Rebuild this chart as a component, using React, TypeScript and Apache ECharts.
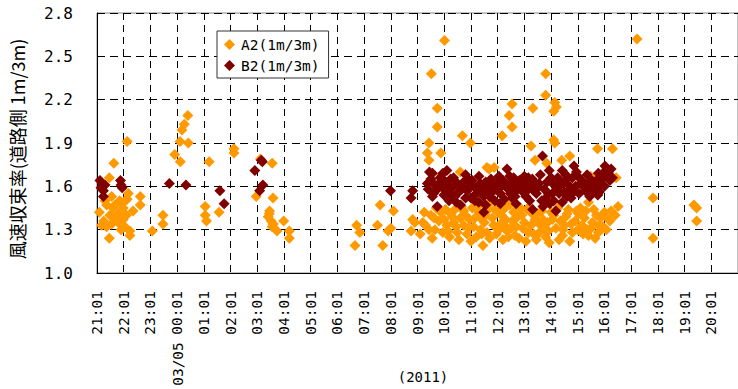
import React, { useEffect, useRef } from "react";
import * as echarts from "echarts";

// x = hours elapsed since 21:01 (03/04), y = wind-speed convergence ratio
const hourLabels = [
  "21:01", "22:01", "23:01", "00:01", "01:01", "02:01", "03:01", "04:01",
  "05:01", "06:01", "07:01", "08:01", "09:01", "10:01", "11:01", "12:01",
  "13:01", "14:01", "15:01", "16:01", "17:01", "18:01", "19:01", "20:01",
];
const yTicks = [1.0, 1.3, 1.6, 1.9, 2.2, 2.5, 2.8];

const a2Points: [number, number][] = [
  [0.09, 1.42], [0.17, 1.33], [0.25, 1.36], [0.3, 1.5], [0.36, 1.32], [0.36, 1.47],
  [0.46, 1.66], [0.46, 1.24], [0.48, 1.4], [0.55, 1.53], [0.55, 1.34], [0.6, 1.45],
  [0.63, 1.76], [0.67, 1.47], [0.7, 1.38], [0.79, 1.41], [0.79, 1.35], [0.85, 1.5],
  [0.9, 1.3], [0.92, 1.48], [0.98, 1.45], [0.98, 1.37], [1.04, 1.32], [1.05, 1.5],
  [1.1, 1.4], [1.13, 1.91], [1.13, 1.51], [1.17, 1.55], [1.23, 1.29], [1.23, 1.26],
  [1.35, 1.43], [1.62, 1.53], [1.62, 1.47], [2.07, 1.29], [2.47, 1.4], [2.47, 1.34],
  [2.91, 1.82], [3.11, 1.91], [3.12, 1.77], [3.18, 1.99], [3.27, 2.03], [3.4, 2.09],
  [3.42, 1.9], [4.05, 1.46], [4.05, 1.4], [4.1, 1.36], [4.2, 1.77], [4.57, 1.42],
  [5.13, 1.86], [5.13, 1.83], [5.96, 1.53], [6.12, 1.79], [6.56, 1.76], [6.59, 1.52],
  [6.46, 1.43], [6.41, 1.39], [6.45, 1.41], [6.52, 1.36], [6.56, 1.32], [6.6, 1.34],
  [6.74, 1.29], [6.99, 1.36], [7.2, 1.29], [7.2, 1.24], [9.66, 1.19], [9.72, 1.33],
  [9.84, 1.28], [10.5, 1.33], [10.6, 1.47], [10.7, 1.19], [10.9, 1.29], [11.0, 1.31],
  [11.1, 1.43], [11.76, 1.29], [11.82, 1.37], [11.9, 1.35], [12.1, 1.27], [12.2, 1.35],
  [12.25, 1.42], [12.3, 1.33], [12.37, 1.83], [12.43, 1.9], [12.43, 1.78], [12.43, 1.3],
  [12.5, 1.4], [12.52, 2.38], [12.55, 1.24], [12.62, 1.38], [12.65, 1.3], [12.7, 1.45],
  [12.74, 2.14], [12.74, 2.01], [12.8, 1.36], [12.87, 1.83], [12.87, 1.42], [12.9, 1.68],
  [12.95, 1.28], [13.0, 1.37], [13.01, 2.61], [13.05, 1.44], [13.1, 1.33], [13.1, 1.55],
  [13.15, 1.29], [13.2, 1.25], [13.24, 1.41], [13.3, 1.39], [13.35, 1.35], [13.4, 1.44],
  [13.45, 1.32], [13.49, 1.28], [13.55, 1.23], [13.6, 1.7], [13.6, 1.38], [13.65, 1.46],
  [13.68, 1.95], [13.73, 1.43], [13.73, 1.33], [13.8, 1.4], [13.85, 1.27], [13.9, 1.31],
  [13.95, 1.37], [13.98, 1.9], [14.0, 1.22], [14.05, 1.45], [14.1, 1.32], [14.15, 1.38],
  [14.2, 1.25], [14.25, 1.46], [14.3, 1.42], [14.36, 1.38], [14.36, 1.3], [14.4, 1.27],
  [14.45, 1.19], [14.5, 1.35], [14.55, 1.4], [14.6, 1.28], [14.6, 1.73], [14.65, 1.44],
  [14.68, 1.72], [14.7, 1.24], [14.73, 1.49], [14.8, 1.38], [14.85, 1.33], [14.87, 1.73],
  [14.9, 1.44], [14.95, 1.27], [15.0, 1.42], [15.05, 1.3], [15.1, 1.34], [15.15, 1.4],
  [15.17, 1.95], [15.2, 1.23], [15.22, 1.44], [15.25, 1.33], [15.3, 1.37], [15.35, 1.29],
  [15.4, 1.25], [15.43, 2.09], [15.45, 1.47], [15.5, 1.31], [15.54, 2.17], [15.54, 2.01],
  [15.55, 1.36], [15.6, 1.42], [15.65, 1.26], [15.7, 1.32], [15.75, 1.39], [15.8, 1.24],
  [15.85, 1.45], [15.9, 1.4], [15.94, 1.31], [16.0, 1.35], [16.06, 1.22], [16.1, 1.44],
  [16.15, 1.28], [16.2, 1.46], [16.25, 1.88], [16.25, 1.33], [16.3, 1.41], [16.32, 2.14],
  [16.35, 1.27], [16.4, 1.78], [16.4, 1.37], [16.45, 1.23], [16.5, 1.41], [16.56, 1.28],
  [16.56, 1.34], [16.65, 1.43], [16.7, 1.37], [16.75, 1.31], [16.8, 2.38], [16.8, 2.23],
  [16.8, 1.25], [16.84, 1.76], [16.87, 1.35], [16.9, 1.29], [16.93, 1.21], [17.0, 1.42],
  [17.05, 1.37], [17.1, 2.12], [17.1, 1.92], [17.1, 1.4], [17.14, 2.18], [17.14, 1.9],
  [17.18, 1.31], [17.2, 2.15], [17.25, 1.45], [17.3, 1.23], [17.35, 1.36], [17.4, 1.78],
  [17.43, 1.26], [17.45, 1.3], [17.5, 1.33], [17.55, 1.39], [17.6, 1.41], [17.65, 1.44],
  [17.7, 1.81], [17.7, 1.22], [17.75, 1.34], [17.8, 1.28], [17.9, 1.36], [17.95, 1.43],
  [18.0, 1.3], [18.03, 1.41], [18.1, 1.45], [18.16, 1.33], [18.2, 1.27], [18.25, 1.38],
  [18.3, 1.43], [18.35, 1.3], [18.4, 1.58], [18.4, 1.49], [18.4, 1.26], [18.48, 1.67],
  [18.5, 1.31], [18.55, 1.35], [18.6, 1.44], [18.65, 1.24], [18.7, 1.4], [18.74, 1.86],
  [18.77, 1.28], [18.8, 1.33], [18.85, 1.38], [18.95, 1.32], [19.0, 1.42], [19.07, 1.3],
  [19.1, 1.38], [19.2, 1.36], [19.25, 1.43], [19.3, 1.86], [19.4, 1.4], [19.44, 1.66],
  [19.51, 1.46], [20.22, 2.62], [20.82, 1.52], [20.82, 1.24], [22.35, 1.47], [22.45, 1.45],
  [22.45, 1.36],
];

const b2Points: [number, number][] = [
  [0.11, 1.64], [0.15, 1.59], [0.2, 1.62], [0.24, 1.57], [0.24, 1.53], [0.3, 1.61],
  [0.88, 1.64], [0.9, 1.61], [0.94, 1.59], [2.71, 1.62], [3.33, 1.61], [4.6, 1.57],
  [4.76, 1.48], [5.91, 1.71], [6.15, 1.78], [6.19, 1.77], [6.21, 1.61], [6.09, 1.57],
  [10.99, 1.57], [11.76, 1.52], [11.82, 1.57], [12.37, 1.62], [12.4, 1.58], [12.45, 1.7],
  [12.5, 1.65], [12.56, 1.69], [12.56, 1.53], [12.6, 1.55], [12.65, 1.61], [12.74, 1.58],
  [12.74, 1.46], [12.8, 1.62], [12.85, 1.66], [12.9, 1.6], [12.95, 1.69], [12.99, 1.54],
  [13.0, 1.64], [13.05, 1.57], [13.1, 1.71], [13.15, 1.6], [13.18, 1.5], [13.2, 1.55],
  [13.24, 1.65], [13.3, 1.59], [13.35, 1.66], [13.4, 1.53], [13.45, 1.49], [13.5, 1.62],
  [13.55, 1.56], [13.61, 1.47], [13.65, 1.58], [13.73, 1.63], [13.8, 1.52], [13.8, 1.68],
  [13.86, 1.57], [13.9, 1.65], [13.95, 1.6], [14.0, 1.52], [14.05, 1.64], [14.1, 1.6],
  [14.15, 1.5], [14.2, 1.55], [14.25, 1.58], [14.29, 1.49], [14.3, 1.67], [14.35, 1.62],
  [14.4, 1.57], [14.48, 1.53], [14.48, 1.42], [14.55, 1.63], [14.55, 1.47], [14.6, 1.6],
  [14.65, 1.56], [14.7, 1.53], [14.75, 1.65], [14.8, 1.61], [14.85, 1.57], [14.9, 1.5],
  [14.95, 1.62], [15.0, 1.59], [15.05, 1.67], [15.1, 1.55], [15.1, 1.48], [15.15, 1.6],
  [15.2, 1.64], [15.25, 1.51], [15.3, 1.6], [15.35, 1.72], [15.4, 1.58], [15.45, 1.67],
  [15.47, 1.55], [15.5, 1.63], [15.55, 1.52], [15.57, 1.6], [15.6, 1.66], [15.65, 1.53],
  [15.69, 1.48], [15.7, 1.57], [15.75, 1.61], [15.81, 1.64], [15.9, 1.6], [15.95, 1.56],
  [16.0, 1.67], [16.05, 1.63], [16.06, 1.53], [16.1, 1.57], [16.15, 1.66], [16.2, 1.5],
  [16.25, 1.6], [16.3, 1.65], [16.31, 1.44], [16.35, 1.57], [16.4, 1.62], [16.45, 1.55],
  [16.5, 1.59], [16.55, 1.62], [16.6, 1.68], [16.65, 1.5], [16.68, 1.81], [16.7, 1.46],
  [16.75, 1.58], [16.8, 1.52], [16.85, 1.63], [16.9, 1.55], [16.93, 1.71], [16.95, 1.48],
  [17.0, 1.66], [17.05, 1.55], [17.06, 1.62], [17.1, 1.5], [17.18, 1.43], [17.2, 1.58],
  [17.25, 1.66], [17.3, 1.55], [17.3, 1.6], [17.35, 1.63], [17.42, 1.71], [17.42, 1.49],
  [17.45, 1.62], [17.5, 1.56], [17.55, 1.68], [17.6, 1.65], [17.6, 1.53], [17.65, 1.57],
  [17.7, 1.6], [17.75, 1.52], [17.8, 1.66], [17.85, 1.56], [17.86, 1.74], [17.92, 1.6],
  [17.95, 1.7], [18.0, 1.67], [18.05, 1.55], [18.1, 1.62], [18.16, 1.64], [18.2, 1.6],
  [18.28, 1.57], [18.3, 1.6], [18.35, 1.68], [18.4, 1.62], [18.45, 1.53], [18.5, 1.57],
  [18.53, 1.64], [18.6, 1.58], [18.65, 1.6], [18.7, 1.64], [18.75, 1.54], [18.77, 1.69],
  [18.81, 1.56], [18.83, 1.6], [18.88, 1.62], [18.9, 1.65], [18.94, 1.69], [19.0, 1.6],
  [19.02, 1.74], [19.1, 1.68], [19.15, 1.7], [19.2, 1.64], [19.25, 1.72], [19.3, 1.66],
];

const MONO = "'DejaVu Sans Mono', monospace";

export default function App() {
  const ref = useRef<HTMLDivElement>(null);
  useEffect(() => {
    if (!ref.current) return;
    const chart = echarts.init(ref.current, null, { renderer: "svg" });
    chart.setOption({
      animation: false,
      backgroundColor: "#fff",
      grid: {
        left: 97, top: 13, right: -4, bottom: 116,
        show: true, borderColor: "#888", borderWidth: 1, backgroundColor: "transparent",
      },
      legend: {
        left: 217, top: 31, orient: "vertical",
        backgroundColor: "#fff", borderColor: "#333", borderWidth: 1,
        padding: [6, 9, 5, 7], itemGap: 6, itemWidth: 11, itemHeight: 11,
        icon: "diamond",
        textStyle: { fontFamily: MONO, fontSize: 14.5, color: "#000", padding: [0, 0, 0, 1] },
        data: ["A2(1m/3m)", "B2(1m/3m)"],
      },
      xAxis: {
        type: "value", min: 0, max: 24, interval: 1,
        axisLine: { show: true, lineStyle: { color: "#000", width: 1 } },
        axisTick: { show: false },
        axisLabel: {
          rotate: 90, margin: 18, fontFamily: MONO, fontSize: 14.5, color: "#000",
          formatter: (v: number) => (v < 24 ? hourLabels[Math.round(v)] : ""),
        },
        splitLine: { show: true, lineStyle: { color: "#000", type: [7, 5], width: 1 } },
      },
      yAxis: {
        type: "value", min: yTicks[0], max: yTicks[yTicks.length - 1], interval: 0.3,
        axisLine: { show: true, lineStyle: { color: "#000", width: 1 } },
        axisTick: { show: false },
        axisLabel: {
          margin: 24, fontFamily: MONO, fontSize: 16, color: "#000",
          formatter: (v: number) => v.toFixed(1),
        },
        splitLine: { show: true, lineStyle: { color: "#000", type: [8, 5], width: 1 } },
      },
      graphic: [
        {
          type: "text", x: 17, y: 149, rotation: Math.PI / 2,
          style: {
            text: "風速収束率(道路側 1m/3m)", fontFamily: "'Noto Sans CJK JP'", fontSize: 18,
            fill: "#000", align: "center", verticalAlign: "middle",
          },
        },
        {
          type: "text", x: 178, y: 364, rotation: Math.PI / 2,
          style: {
            text: "03/05", fontFamily: MONO, fontSize: 14.5, fill: "#000",
            align: "center", verticalAlign: "middle",
          },
        },
        {
          type: "text", x: 423, y: 377,
          style: {
            text: "(2011)", fontFamily: MONO, fontSize: 14, fill: "#000",
            align: "center", verticalAlign: "middle",
          },
        },
      ],
      series: [
        {
          name: "A2(1m/3m)", type: "scatter", symbol: "diamond", symbolSize: 11,
          itemStyle: { color: "#FF9900", opacity: 1 }, data: a2Points,
        },
        {
          name: "B2(1m/3m)", type: "scatter", symbol: "diamond", symbolSize: 11,
          itemStyle: { color: "#800000", opacity: 1 }, data: b2Points,
        },
      ],
    });
    return () => chart.dispose();
  }, []);
  return <div ref={ref} style={{ width: 738, height: 389, position: "absolute", left: 0, top: 0 }} />;
}
